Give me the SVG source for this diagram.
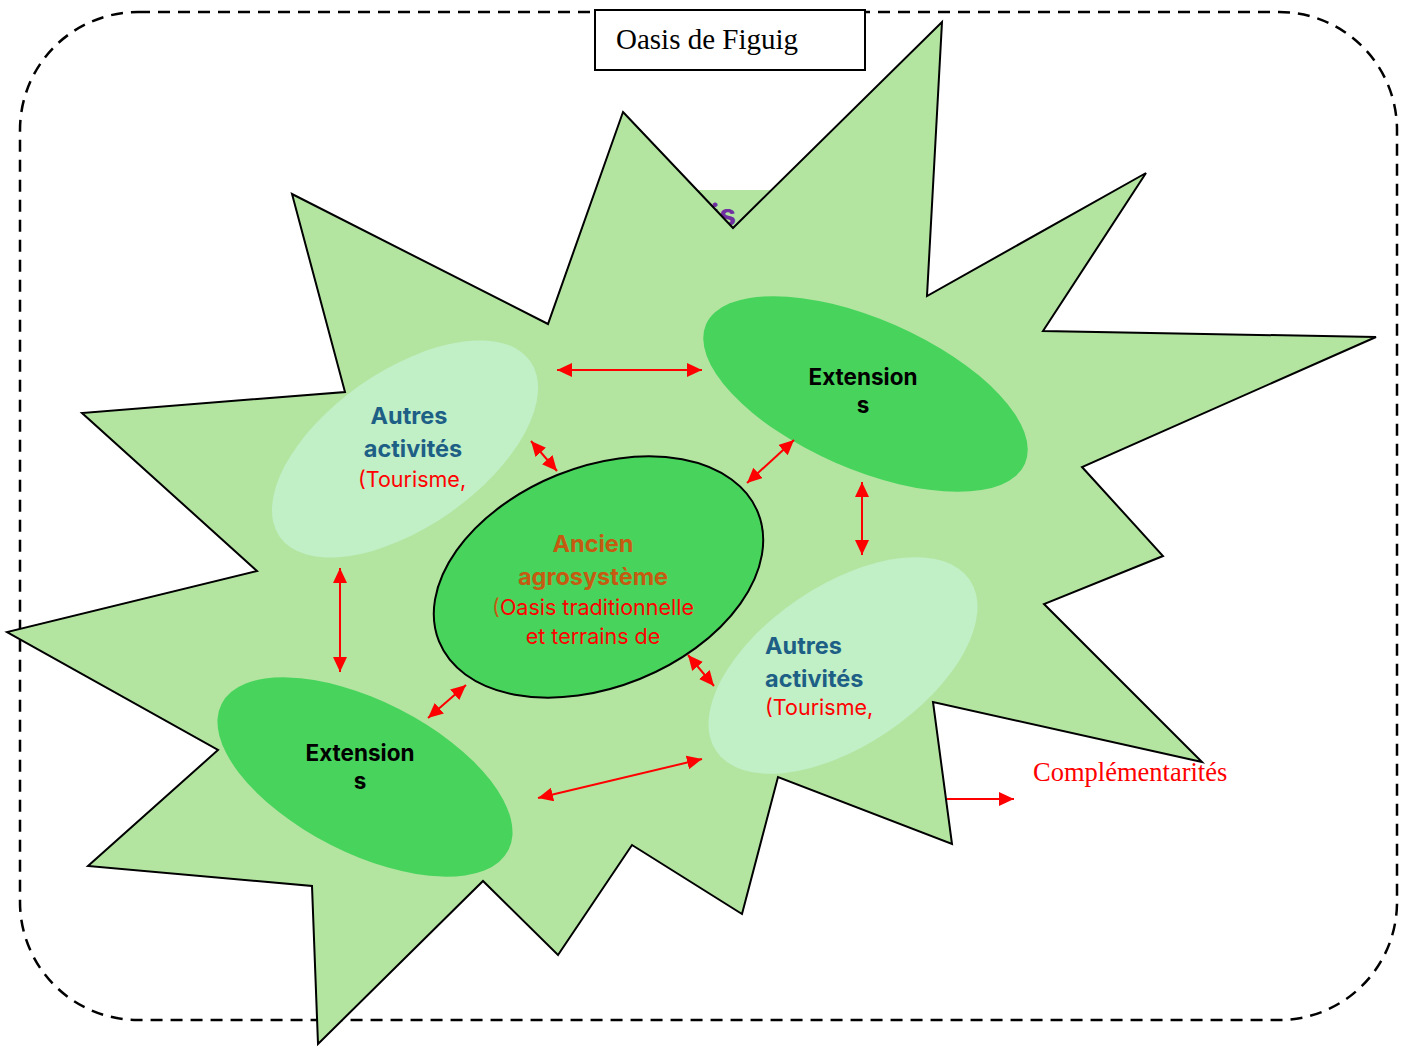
<svg xmlns="http://www.w3.org/2000/svg" width="1411" height="1046" viewBox="0 0 1411 1046">
<style>
.frame{fill:none;stroke:#000;stroke-width:2.5;stroke-dasharray:12 8}
.star{fill:#B3E5A1;stroke:#000;stroke-width:2;stroke-linejoin:miter}
.dark{fill:#48D45C}
.light{fill:#C1EFC6}
.hd{font-family:Inter,"Open Sans","Liberation Sans",sans-serif;font-weight:bold;font-size:23.5px}
.ext{font-family:Inter,"Open Sans","Liberation Sans",sans-serif;font-weight:bold;font-size:22.5px;fill:#000}
.mid{text-anchor:middle}
.start{text-anchor:start}
.blue{fill:#1E5F86}
.orange{fill:#C55A11}
.red{font-family:Inter,"Open Sans","Liberation Sans",sans-serif;font-size:21.5px;fill:#FF0000}
.serif{font-family:"Liberation Serif","Times New Roman",serif}
.conn{stroke:#FF0000;stroke-width:2;fill:none}
</style>
<defs>
<marker id="ah" markerUnits="userSpaceOnUse" markerWidth="16" markerHeight="14" refX="15" refY="7" orient="auto-start-reverse">
<path d="M0,0 L15,7 L0,14 z" fill="#FF0000"/>
</marker>
</defs>
<rect class="frame" x="20" y="12" width="1377" height="1008" rx="118" ry="118"/>
<g id="hidden-label">
<rect x="698" y="190" width="72" height="60" fill="#B3E5A1"/>
<text x="711" y="226" font-family="Inter,'Liberation Sans',sans-serif" font-weight="bold" font-size="30" fill="#7030A0">is</text>
</g>
<g id="oasis-star">
<polygon class="star" points="623,112 733,228 942,22 927,296 1146,173 1043,331 1376,337 1082,467 1163,556 1044,604 1202,762 933,702 952,844 778,777 742,914 632,845 558,955 483,881 318,1044 312,886 88,866 218,750 7,632 257,571 82,413 345,392 292,194 548,324"/>
</g>
<g id="title">
<rect x="595" y="10" width="270" height="60" fill="#fff" stroke="#000" stroke-width="2"/>
<text class="serif" x="616" y="49" font-size="29" fill="#000">Oasis de Figuig</text>
</g>
<g id="autres-1">
<ellipse class="light" cx="405" cy="449" rx="153" ry="78" transform="rotate(-35 405 449)"/>
<text class="hd blue mid" x="409" y="424">Autres</text>
<text class="hd blue mid" x="413" y="457">activités</text>
<text class="red mid" x="412" y="487">(Tourisme,</text>
</g>
<g id="extensions-1">
<ellipse class="dark" cx="865.5" cy="394" rx="174" ry="75" transform="rotate(23.6 865.5 394)"/>
<text class="ext mid" x="863" y="385">Extension</text>
<text class="ext mid" x="863" y="413">s</text>
</g>
<g id="extensions-2">
<ellipse class="dark" cx="365" cy="777" rx="161" ry="76" transform="rotate(27 365 777)"/>
<text class="ext mid" x="360" y="761">Extension</text>
<text class="ext mid" x="360" y="789">s</text>
</g>
<g id="autres-2">
<ellipse class="light" cx="843" cy="665.5" rx="153" ry="80" transform="rotate(-34 843 665.5)"/>
<text class="hd blue start" x="765" y="654">Autres</text>
<text class="hd blue start" x="765" y="687">activités</text>
<text class="red start" x="765" y="715">(Tourisme,</text>
</g>
<g id="ancien">
<ellipse class="dark" cx="598.5" cy="577" rx="172" ry="110" transform="rotate(-22 598.5 577)" stroke="#000" stroke-width="2"/>
<text class="hd orange mid" x="593" y="552">Ancien</text>
<text class="hd orange mid" x="593" y="585">agrosystème</text>
<text class="red mid" x="593" y="615"><tspan fill="#C55A11">(</tspan>Oasis traditionnelle</text>
<text class="red mid" x="593" y="644">et terrains de</text>
</g>
<g id="connectors">
<line class="conn" x1="557" y1="370" x2="702" y2="370" marker-start="url(#ah)" marker-end="url(#ah)"/>
<line class="conn" x1="531" y1="441" x2="557" y2="471" marker-start="url(#ah)" marker-end="url(#ah)"/>
<line class="conn" x1="747" y1="483" x2="794" y2="440" marker-start="url(#ah)" marker-end="url(#ah)"/>
<line class="conn" x1="862" y1="482" x2="862" y2="555" marker-start="url(#ah)" marker-end="url(#ah)"/>
<line class="conn" x1="340" y1="568" x2="340" y2="672" marker-start="url(#ah)" marker-end="url(#ah)"/>
<line class="conn" x1="428" y1="718" x2="466" y2="685" marker-start="url(#ah)" marker-end="url(#ah)"/>
<line class="conn" x1="688" y1="655" x2="714" y2="686" marker-start="url(#ah)" marker-end="url(#ah)"/>
<line class="conn" x1="538" y1="798" x2="702" y2="759" marker-start="url(#ah)" marker-end="url(#ah)"/>
<line class="conn" x1="947" y1="799" x2="1014" y2="799" marker-end="url(#ah)"/>
</g>
<g id="legend">
<text class="serif" x="1033" y="781" font-size="26.5" fill="#FF0000">Complémentarités</text>
</g>
</svg>
